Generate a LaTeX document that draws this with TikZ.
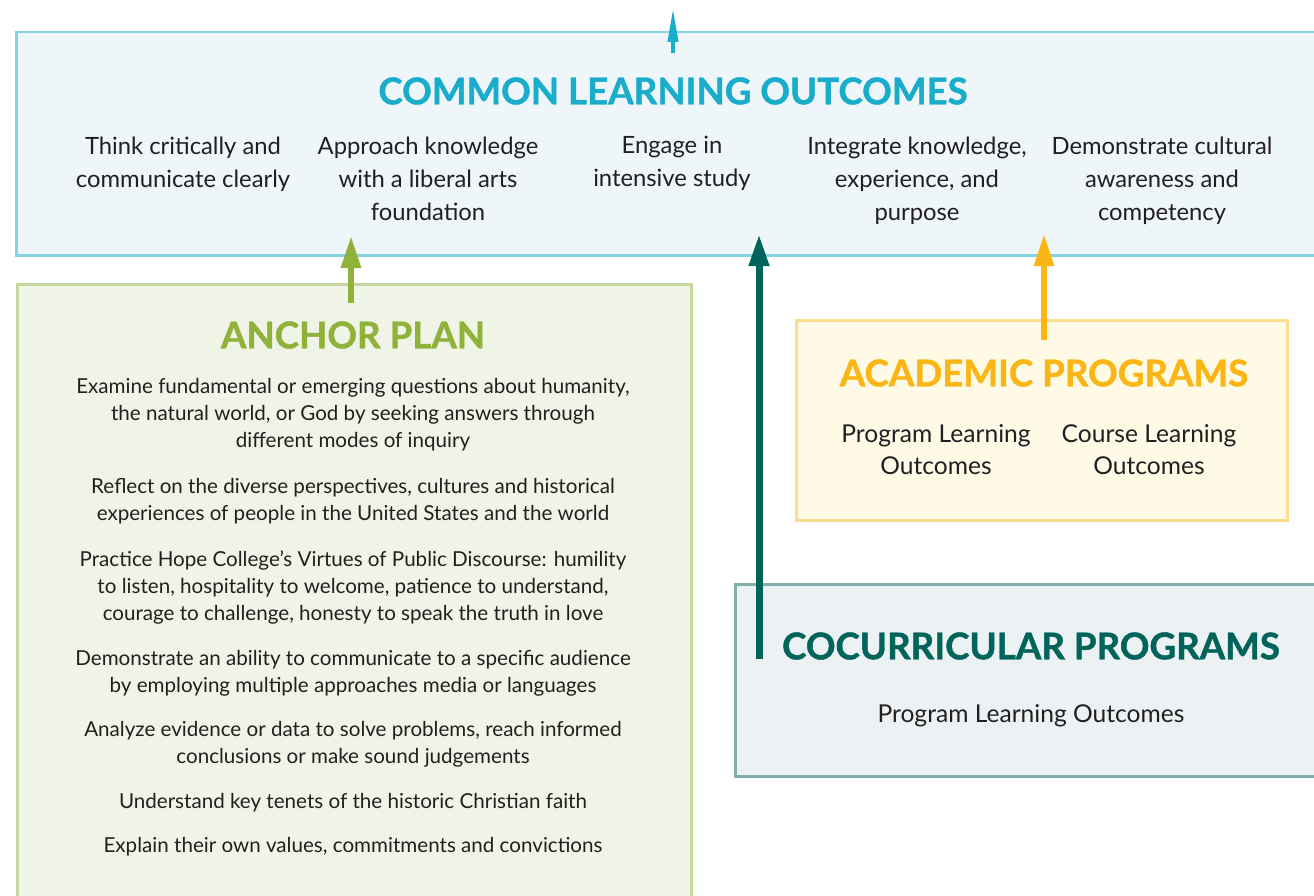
\documentclass[tikz,border=0pt]{standalone}
\usepackage{fontspec}
\setmainfont{Lato}
\newfontfamily\headfont{Lato}[UprightFont=*, UprightFeatures={FakeBold=1.2}, BoldFeatures={FakeBold=1.2}]
\usetikzlibrary{arrows.meta}
\definecolor{cloc}{HTML}{19ADCB}
\definecolor{clofill}{HTML}{EFF6F9}
\definecolor{clobd}{HTML}{86D3E4}
\definecolor{anc}{HTML}{8FB23B}
\definecolor{ancfill}{HTML}{F0F4E7}
\definecolor{ancbd}{HTML}{C6D99C}
\definecolor{acc}{HTML}{FBB515}
\definecolor{accfill}{HTML}{FEFAE6}
\definecolor{accbd}{HTML}{FCDC8E}
\definecolor{coc}{HTML}{00645A}
\definecolor{cocfill}{HTML}{ECF2F3}
\definecolor{cocbd}{HTML}{80AFAD}
\definecolor{txt}{HTML}{231F20}
\tikzset{
  panel/.style={draw=#1bd, fill=#1fill, line width=2.5pt, rectangle, inner sep=0pt},
  head/.style={font=\headfont\fontsize{36.7}{42}\selectfont\bfseries, text=#1},
  item/.style={font=\fontsize{23.8}{33}\selectfont, text=txt, align=center},
  pitem/.style={font=\fontsize{24.6}{32}\selectfont, text=txt, align=center},
  aitem/.style={font=\fontsize{20.6}{27}\selectfont, text=txt, align=center},
  uparrow/.style={draw=#1, line width=6pt, -{Triangle[length=32pt, width=19pt]}},
}
\begin{document}
\begin{tikzpicture}[x=1pt,y=-1pt]
\useasboundingbox (0,0) rectangle (1314,896);
\clip (0,0) rectangle (1314,896);
% panels
\node[panel=clo, minimum width=1320pt, minimum height=223pt, anchor=north west] (clo) at (15,31) {};
\node[panel=anc, minimum width=674pt, minimum height=630pt, anchor=north west] (anc) at (16,283) {};
\node[panel=acc, minimum width=491pt, minimum height=200pt, anchor=north west] (acc) at (795,319) {};
\node[panel=coc, minimum width=600pt, minimum height=192pt, anchor=north west] (coc) at (734,583) {};
% headings
\node[head=cloc] (cloh) at (673,91) {COMMON LEARNING OUTCOMES};
\node[head=anc] (anch) at (353,335) {ANCHOR PLAN};
\node[head=acc] (acch) at (1044,373) {ACADEMIC PROGRAMS};
\node[head=coc] (coch) at (1031,646) {COCURRICULAR PROGRAMS};
% common learning outcomes
\node[item, anchor=north] (c1) at (183,133) {Think critically and\\communicate clearly};
\node[item, anchor=north] (c2) at (428,133) {Approach knowledge\\with a liberal arts\\foundation};
\node[item, anchor=north] (c3) at (672,133) {Engage in\\intensive study};
\node[item, anchor=north] (c4) at (917,133) {Integrate knowledge,\\experience, and\\purpose};
\node[item, anchor=north] (c5) at (1162,133) {Demonstrate cultural\\awareness and\\competency};
% anchor plan
\node[aitem, anchor=north] (a1) at (353,375) {Examine fundamental or emerging questions about humanity,\\the natural world, or God by seeking answers through\\different modes of inquiry};
\node[aitem, anchor=north] (a2) at (353,475) {Reflect on the diverse perspectives, cultures and historical\\experiences of people in the United States and the world};
\node[aitem, anchor=north] (a3) at (353,547) {Practice Hope College’s Virtues of Public Discourse: humility\\to listen, hospitality to welcome, patience to understand,\\courage to challenge, honesty to speak the truth in love};
\node[aitem, anchor=north] (a4) at (353,647) {Demonstrate an ability to communicate to a specific audience\\by employing multiple approaches media or languages};
\node[aitem, anchor=north] (a5) at (353,718) {Analyze evidence or data to solve problems, reach informed\\conclusions or make sound judgements};
\node[aitem, anchor=north] (a6) at (353,790) {Understand key tenets of the historic Christian faith};
\node[aitem, anchor=north] (a7) at (353,834) {Explain their own values, commitments and convictions};
% academic programs
\node[pitem, anchor=north] (p1) at (936,421) {Program Learning\\Outcomes};
\node[pitem, anchor=north] (p2) at (1149,421) {Course Learning\\Outcomes};
% cocurricular
\node[pitem, anchor=north] (q1) at (1031,701) {Program Learning Outcomes};
% arrows
\coordinate (topend) at (673,8);
\coordinate (cloin) at (673,53);
\draw[uparrow=cloc, line width=4pt, -{Triangle[length=34pt, width=10pt]}] (cloin) -- (topend);
\coordinate (ancs) at (351,303);
\coordinate (anct) at (351,236);
\draw[uparrow=anc] (ancs) -- (anct);
\coordinate (accs) at (1044,340);
\coordinate (acct) at (1044,234);
\draw[uparrow=acc] (accs) -- (acct);
\coordinate (cocs) at (759,659);
\coordinate (coct) at (759,234);
\draw[uparrow=coc, line width=7pt] (cocs) -- (coct);
\end{tikzpicture}
\end{document}
